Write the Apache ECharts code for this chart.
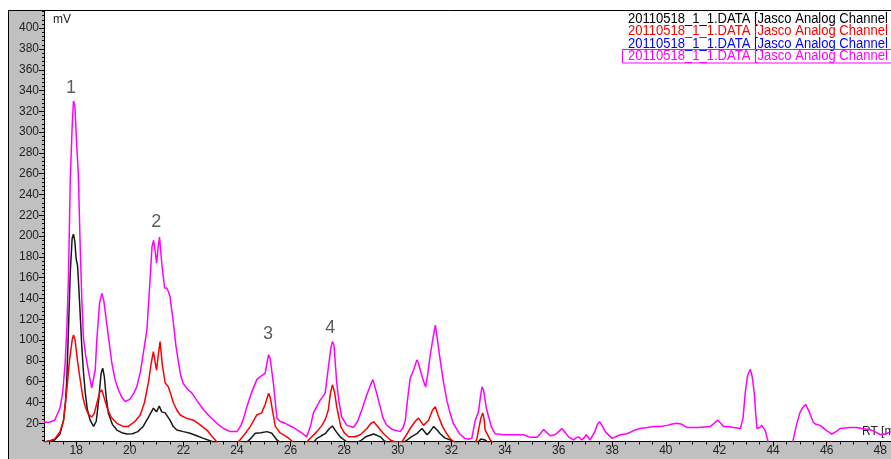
<!DOCTYPE html>
<html><head><meta charset="utf-8">
<script src="https://cdn.jsdelivr.net/npm/echarts@6/dist/echarts.min.js"></script>
<style>html,body{margin:0;padding:0;background:#fff}#c{width:891px;height:459px}</style>
</head><body><div id="c"></div>
<script>
// ---- data (retention time in min, signal in mV) ----
const magentaT = [16.8,17.0,17.2,17.4,17.5,17.59,17.65,17.71,17.78,17.85,17.9,17.95,18.02,18.08,18.15,18.21,18.27,18.35,18.46,18.58,18.65,18.71,18.77,18.87,18.96,19.03,19.14,19.23,19.33,19.45,19.58,19.7,19.83,20.0,20.15,20.26,20.4,20.52,20.64,20.75,20.83,20.89,20.95,21.0,21.06,21.11,21.2,21.3,21.38,21.45,21.5,21.63,21.72,21.82,21.9,22.0,22.15,22.32,22.5,22.75,23.0,23.25,23.5,23.75,24.0,24.15,24.25,24.37,24.55,24.74,24.87,25.05,25.12,25.18,25.24,25.36,25.49,25.6,25.8,26.1,26.4,26.6,26.75,26.85,27.1,27.29,27.41,27.5,27.56,27.62,27.72,27.81,27.91,28.1,28.35,28.5,28.66,28.85,29.0,29.07,29.2,29.34,29.45,29.59,29.8,30.09,30.2,30.28,30.36,30.46,30.6,30.71,30.77,30.84,30.94,31.04,31.12,31.2,31.3,31.4,31.48,31.58,31.7,31.83,31.95,32.07,32.3,32.5,32.64,32.76,32.89,33.01,33.08,33.14,33.2,33.3,33.39,33.5,33.63,33.94,34.3,34.69,34.94,35.19,35.32,35.44,35.56,35.69,35.87,36.0,36.12,36.25,36.37,36.56,36.65,36.74,36.87,36.95,37.03,37.18,37.35,37.45,37.53,37.64,37.74,37.99,38.3,38.55,38.8,39.04,39.3,39.54,39.8,40.04,40.2,40.41,40.6,40.78,41.2,41.66,41.8,41.93,42.05,42.15,42.35,42.53,42.78,42.88,42.96,43.05,43.15,43.22,43.3,43.35,43.4,43.5,43.58,43.65,43.71,43.8,43.85,44.7,44.75,44.87,45.0,45.1,45.22,45.35,45.5,45.6,45.76,46.0,46.19,46.35,46.5,46.88,47.1,47.32,47.6,47.8,48.0,48.2,48.4];
const magentaV = [21,21,23,35,50,78,110,158,254,305,330,326,288,260,190,140,103,86,70,54,55,71,100,135,145,138,116,98,78,62,52,45,41,43,49,55,70,90,110,155,190,196,185,174,190,199,172,150,150,146,142,116,95,78,66,58,53,49,42,33,26,20,15,12,12,18,25,36,50,62,65,68,78,86,82,58,25,22,20,16,11,7,18,30,42,49,74,92,98.5,95,59,40,26,18,16,22,33,48,58,62,50,36,25,18,14,12,16,23,42,63,72,81,78,71,62,55,68,84,100,114.5,100,81,60,42,30,20,10,5.5,4.6,5.5,23,31,45,55,52,35,26,16,10,9,9,9,6.5,6.5,10,14,11,8,9,12,15,11,7,4,6,7,4,6,9,4,12,19,21.5,17,12,5.5,9,10,13,15,16,17,17,18,19,20,19,16,16,17,20,23,20,17,17,16,15,25,49,66,72,65,49,30,15,16,18,17,13,4,-10,-10,4,18,30,35,38,31,21,19,18,13,9.7,12,15,16,16,15,14,12,9,10,12];

const redT = [16.8,17.0,17.2,17.4,17.53,17.65,17.75,17.85,17.9,17.96,18.05,18.15,18.25,18.34,18.45,18.58,18.68,18.78,18.88,18.96,19.05,19.14,19.3,19.52,19.75,19.95,20.2,20.39,20.55,20.7,20.8,20.88,21.0,21.06,21.13,21.22,21.32,21.44,21.53,21.63,21.75,21.88,22.1,22.38,22.6,22.88,23.05,23.19,23.3,23.95,24.05,24.3,24.5,24.74,24.92,25.05,25.18,25.24,25.3,25.43,25.6,25.86,26.1,26.2,26.55,26.67,26.98,27.17,27.3,27.41,27.48,27.56,27.64,27.72,27.87,28.0,28.16,28.4,28.6,28.85,29.0,29.1,29.25,29.47,29.72,29.9,30.15,30.3,30.46,30.65,30.77,30.96,31.15,31.3,31.4,31.5,31.65,31.8,31.96,32.1,32.3,32.85,32.95,33.01,33.1,33.17,33.22,33.26,33.45,33.6];
const redV = [2,3,5,12,23,52,80,100,105,100,80,62,45,36,29,26,30,40,50,52,44,36,26,20,17,17,22,28,40,60,78,89,71,85,98.5,75,59,55,48,39.5,33,28,25,23,19,13.5,8,4,0,0,2,10,17,28,30,38,49,45,36,17,11,7,2,0,0,4,12,18,24,33,48,57,50,36,17,11,7,7,9,15,20,21.5,17,10,4,2,2,8,15,22,25,18,23,33,36,28,18,11,5,2,0,0,5,13.5,25,30,24,13.5,4,0];

const blackT = [16.8,17.0,17.2,17.4,17.53,17.6,17.65,17.7,17.78,17.85,17.9,17.95,18.0,18.05,18.09,18.15,18.21,18.27,18.34,18.42,18.52,18.65,18.75,18.85,18.93,18.99,19.05,19.12,19.2,19.35,19.52,19.7,19.9,20.1,20.3,20.5,20.7,20.88,21.0,21.1,21.19,21.32,21.5,21.62,21.76,22.0,22.25,22.5,22.75,23.12,23.3,24.2,24.37,24.5,24.68,24.9,25.12,25.3,25.49,25.6,25.8,26.8,26.98,27.15,27.29,27.45,27.56,27.7,27.85,28.1,28.4,28.6,28.8,29.1,29.35,29.5,29.7,30.1,30.3,30.5,30.71,30.9,31.09,31.2,31.34,31.45,31.58,31.75,31.96,32.2,32.8,33.0,33.1,33.17,33.25,33.4,33.6];
const blackV = [2,3,4,10,23,40,62,100,165,198,202,195,178,172,155,125,94,70,49,33,23,17,22,45,68,73,65,45,30,19,13.5,11,9.7,10,12,17,26,34.5,31,36.6,31,30,23,17,13.5,12,10.5,8,5.5,2,0,0,2,5,10.5,11,12,10.5,4,2,0,0,5.5,8,10,15,17.4,12,7,2,1,3,7,9.7,7,3,1,0,3,7,10,15,9,12,17,14,10,6,4,1,0,2,5,6,4,1,0];

const legendLabels = ['20110518_1_1.DATA [Jasco Analog Channel 1]','20110518_1_1.DATA [Jasco Analog Channel 1]','20110518_1_1.DATA [Jasco Analog Channel 1]','20110518_1_1.DATA [Jasco Analog Channel 1]'];
const peakNames = ['1','2','3','4'];
const peakX = [17.81,20.99,25.16,27.48];
const peakY = [342,214,106,112];
const yTicks = [20,40,60,80,100,120,140,160,180,200,220,240,260,280,300,320,340,360,380,400];
const yMinorTicks = []; for (let v = 4; v <= 416; v += 4) yMinorTicks.push(v);
const xTicks = [18,20,22,24,26,28,30,32,34,36,38,40,42,44,46,48];
const xMinorTicks = []; for (let v = 17; v <= 48.4; v += 0.5) xMinorTicks.push(v);

const pair = (t, v) => t.map((x, i) => [x, v[i]]);
const chart = echarts.init(document.getElementById('c'));
const FONT = 'Liberation Sans, Arial, sans-serif';
const X0 = 16.8, X1 = 48.4, Y0 = 2.5, Y1 = 416.5;
const axCommon = {type:'value', splitLine:{show:false}};
const legendColors = ['#000000','#ff0000','#0000ff','#ff00ff'];
const legendY = [19,31.5,44,56.5];
const legendGraphics = legendLabels.map((t, i) => ({
  type:'text', x:628, y:legendY[i], scaleX:0.93,
  style:{text:t, fill:legendColors[i], font:'14px '+FONT, textVerticalAlign:'middle'}
}));
chart.setOption({
  backgroundColor:'#c0c0c0',
  animation:false,
  grid:{left:44, top:11, right:0, bottom:17.5, show:true, backgroundColor:'#ffffff', borderWidth:0},
  xAxis:[
    Object.assign({}, axCommon, {min:X0, max:X1,
      axisLine:{show:true, onZero:false, lineStyle:{color:'#000', width:1}},
      axisTick:{show:true, customValues:xTicks, length:5, lineStyle:{color:'#000'}},
      axisLabel:{show:true, customValues:xTicks, margin:3, color:'#222', fontSize:12, fontFamily:FONT}}),
    Object.assign({}, axCommon, {min:X0, max:X1, position:'bottom',
      axisLine:{show:false},
      axisTick:{show:true, customValues:xMinorTicks, length:3, lineStyle:{color:'#000'}},
      axisLabel:{show:false}})
  ],
  yAxis:[
    Object.assign({}, axCommon, {min:Y0, max:Y1,
      axisLine:{show:true, onZero:false, lineStyle:{color:'#000', width:1}},
      axisTick:{show:true, customValues:yTicks, length:5, lineStyle:{color:'#000'}},
      axisLabel:{show:true, customValues:yTicks, margin:5, color:'#222', fontSize:12, fontFamily:FONT}}),
    Object.assign({}, axCommon, {min:Y0, max:Y1, position:'left',
      axisLine:{show:false},
      axisTick:{show:true, customValues:yMinorTicks, length:2, lineStyle:{color:'#000'}},
      axisLabel:{show:false}})
  ],
  series:[
    {type:'line', name:'black', data:pair(blackT, blackV), symbol:'none', lineStyle:{color:'#1a1a1a', width:1.5}, clip:true, z:3},
    {type:'line', name:'red', data:pair(redT, redV), symbol:'none', lineStyle:{color:'#ff0000', width:1.5}, clip:true, z:4},
    {type:'line', name:'magenta', data:pair(magentaT, magentaV), symbol:'none', lineStyle:{color:'#ff00ff', width:1.5}, clip:true, z:5},
    {type:'scatter', data:peakNames.map((n,i)=>({name:n, value:[peakX[i], peakY[i]]})), symbolSize:0,
      label:{show:true, position:'inside', formatter:'{b}', color:'#333', fontSize:18, fontFamily:FONT}, z:6}
  ],
  graphic:[
    {type:'rect', shape:{x:0, y:0, width:891, height:10}, style:{fill:'#fff'}, silent:true},
    {type:'rect', shape:{x:0, y:0, width:8, height:459}, style:{fill:'#fff'}, silent:true},
    {type:'line', shape:{x1:8.5, y1:10.5, x2:891, y2:10.5}, style:{stroke:'#000', lineWidth:1}},
    {type:'line', shape:{x1:8.5, y1:10.5, x2:8.5, y2:459}, style:{stroke:'#000', lineWidth:1}},
    {type:'text', x:53, y:14, style:{text:'mV', fill:'#222', font:'12px '+FONT}},
    {type:'text', x:862, y:426, style:{text:'RT [min]', fill:'#222', font:'12px '+FONT}},
    ...legendGraphics,
    {type:'rect', shape:{x:622.5, y:49.5, width:280, height:13.5}, style:{fill:'none', stroke:'#ff00ff', lineWidth:1}}
  ]
});
</script></body></html>
